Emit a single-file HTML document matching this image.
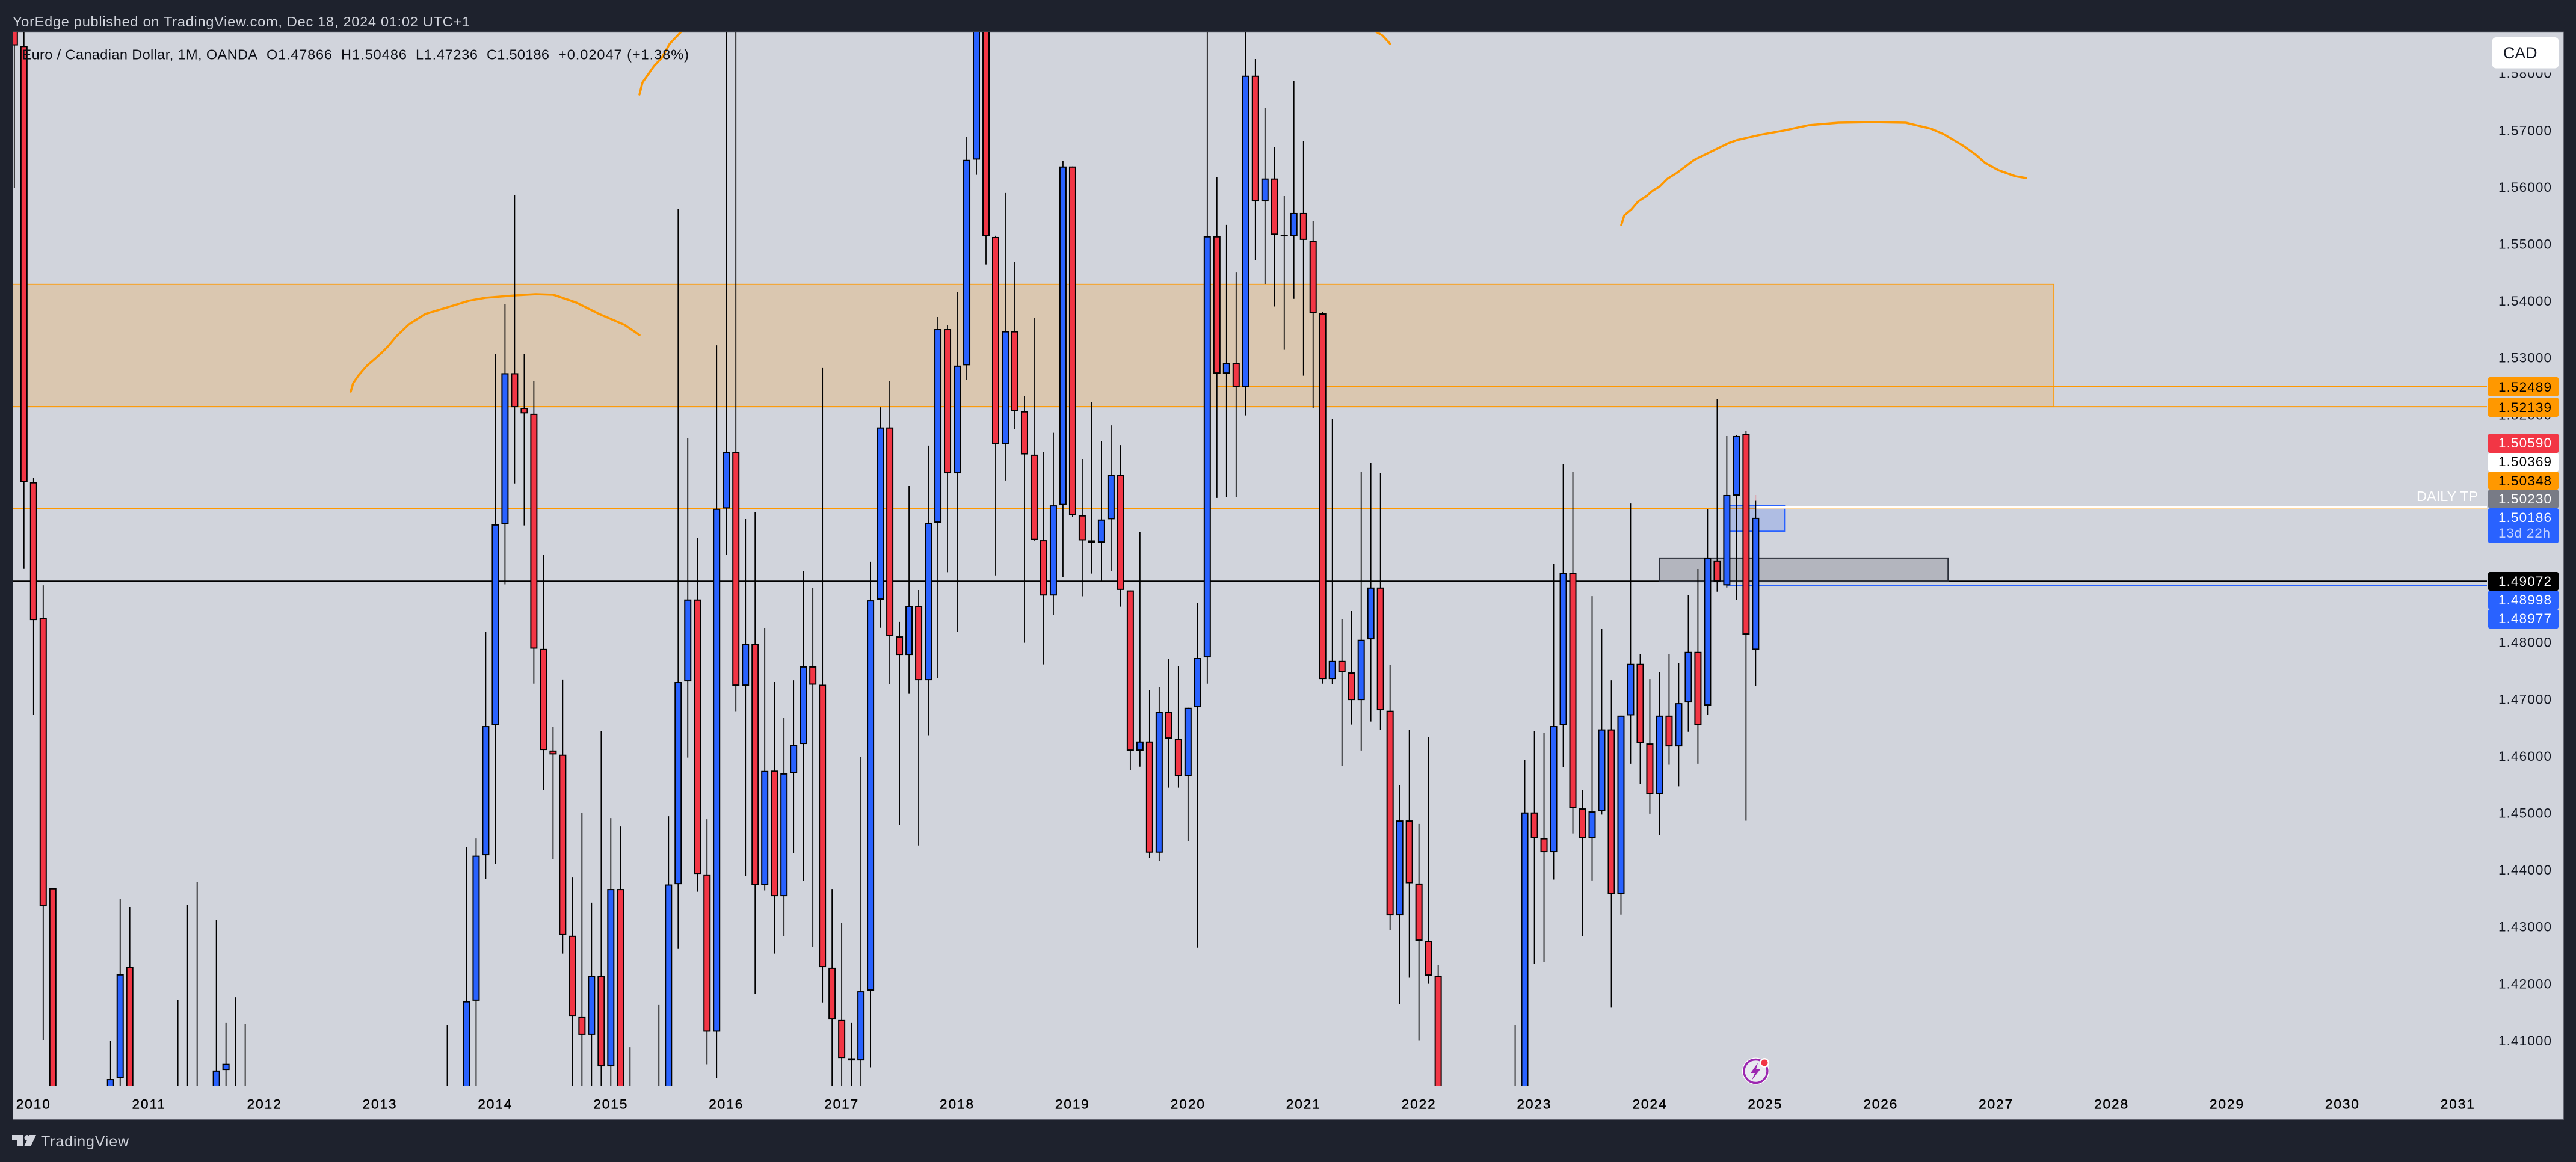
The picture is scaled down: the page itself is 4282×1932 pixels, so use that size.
<!DOCTYPE html>
<html lang="en">
<head>
<meta charset="utf-8">
<title>EUR/CAD monthly chart</title>
<style>
html,body{margin:0;padding:0;background:#1e222d;width:4282px;height:1932px;overflow:hidden}
svg{display:block;font-family:"Liberation Sans",sans-serif}
</style>
</head>
<body>
<svg id="chart" xmlns="http://www.w3.org/2000/svg" width="4282" height="1932" viewBox="0 0 4282 1932">
  <defs>
    <clipPath id="plot-clip"><rect x="21" y="54" width="4113" height="1752"/></clipPath>
  </defs>
  <rect x="0" y="0" width="4282" height="1932" fill="#1e222d"/>
  <rect x="21" y="54" width="4240" height="1807" fill="#d1d4dc"/>
  <path d="M21 53.5H4261V1861H21" fill="none" stroke="#787b86" stroke-width="1.6"/>
  <text x="21" y="44" font-size="23.5" fill="#d1d4dc" textLength="760">YorEdge published on TradingView.com, Dec 18, 2024 01:02 UTC+1</text>

  <g clip-path="url(#plot-clip)">
    <g id="drawings"></g>
    <g fill="none" stroke="#ff9800" stroke-width="3.6" stroke-linecap="round" stroke-linejoin="round">
      <polyline points="583,651 587,637 596,624 610,608 624,596 635,586 645,576 659,559 680,539 707,522 737,513 779,500 807,495 856,491 891,489 920,490 958,503 996,522 1038,540 1063,557"/>
      <polyline points="1063,157 1068,137 1087,110 1100,96 1113,73 1133,52"/>
      <polyline points="2286,52 2298,59 2311,73"/>
      <polyline points="2695,374 2700,358 2712,348 2723,335 2737,326 2746,318 2759,310 2772,297 2788,287 2816,266 2873,238 2887,233 2926,224 2965,217 3007,208 3056,204 3112,203 3168,204 3210,214 3231,223 3263,242 3284,257 3300,271 3322,283 3350,293 3368,296"/>
    </g>
    <g id="candles"></g>
    <line x1="2918.4" x2="2918.4" y1="823" y2="833" stroke="#f23645" stroke-opacity="0.25" stroke-width="1.8"/>
  </g>

  <g id="price-axis"></g>
  <g id="time-axis"></g>

  <text x="4017" y="833" font-size="23.5" fill="#ffffff" textLength="102">DAILY TP</text>

  <g font-size="22.5">
    <g><rect x="4136" y="627" width="117" height="32" rx="3" fill="#ff9800"/><text x="4153" y="651" textLength="88" fill="#000">1.52489</text></g>
    <g><rect x="4136" y="661" width="117" height="32" rx="3" fill="#ff9800"/><text x="4153" y="685" textLength="88" fill="#000">1.52139</text></g>
    <g><rect x="4136" y="721" width="117" height="32" rx="3" fill="#f23645"/><text x="4153" y="744" textLength="88" fill="#fff">1.50590</text></g>
    <g><rect x="4136" y="753" width="117" height="31" rx="3" fill="#ffffff"/><text x="4153" y="775" textLength="88" fill="#000">1.50369</text></g>
    <g><rect x="4136" y="784" width="117" height="30" rx="3" fill="#ff9800"/><text x="4153" y="807" textLength="88" fill="#000">1.50348</text></g>
    <g><rect x="4136" y="814" width="117" height="31" rx="3" fill="#787b86"/><text x="4153" y="837" textLength="88" fill="#fff">1.50230</text></g>
    <g><rect x="4136" y="845" width="117" height="58" rx="3" fill="#2962ff"/><text x="4153" y="868" textLength="88" fill="#fff">1.50186</text><text x="4153" y="894" textLength="86" fill="#c4d2ff">13d 22h</text></g>
    <g><rect x="4136" y="951" width="117" height="31" rx="3" fill="#000000"/><text x="4153" y="974" textLength="88" fill="#fff">1.49072</text></g>
    <g><rect x="4136" y="982" width="117" height="31" rx="3" fill="#2962ff"/><text x="4153" y="1005" textLength="88" fill="#fff">1.48998</text></g>
    <g><rect x="4136" y="1013" width="117" height="32" rx="3" fill="#2962ff"/><text x="4153" y="1036" textLength="88" fill="#fff">1.48977</text></g>
  </g>

  <rect x="4140" y="112" width="116" height="8.5" fill="#d1d4dc"/>
  <g>
    <rect x="4142.5" y="62" width="111" height="51.5" rx="7" fill="#ffffff"/>
    <text x="4161" y="97" font-size="26.5" fill="#131722" textLength="56.5">CAD</text>
  </g>

  <g font-size="23.5" fill="#0c0e15">
    <text x="36.5" y="98.5" textLength="391.5">Euro / Canadian Dollar, 1M, OANDA</text>
    <text x="443" y="98.5" textLength="109">O1.47866</text>
    <text x="567" y="98.5" textLength="109">H1.50486</text>
    <text x="691" y="98.5" textLength="103">L1.47236</text>
    <text x="809" y="98.5" textLength="104">C1.50186</text>
    <text x="928" y="98.5" textLength="217">+0.02047 (+1.38%)</text>
  </g>

  <g>
    <circle cx="2918.4" cy="1781" r="22.5" fill="#ffffff"/>
    <circle cx="2918.4" cy="1781" r="19.5" fill="#e9e9f0" stroke="#9c27b0" stroke-width="3.4"/>
    <polygon points="2922,1767 2910,1784 2917,1784 2912,1796 2926,1778 2919,1778" fill="#9c27b0"/>
    <circle cx="2933" cy="1767" r="8" fill="#ffffff"/>
    <circle cx="2933" cy="1767" r="5.5" fill="#f23645"/>
  </g>

  <g fill="#d1d4dc">
    <polygon points="20,1887 39,1887 39,1906 29,1906 29,1896 20,1896"/>
    <circle cx="45" cy="1891.5" r="4.5"/>
    <polygon points="60,1887 51,1906 40,1906 49,1887"/>
    <text x="68" y="1906" font-size="25" textLength="146">TradingView</text>
  </g>
</svg>

<script>
// Price axis and time axis labels
const priceTicks = [1.58,1.57,1.56,1.55,1.54,1.53,1.52,1.51,1.50,1.49,1.48,1.47,1.46,1.45,1.44,1.43,1.42,1.41];
const yearLabels = [2010,2011,2012,2013,2014,2015,2016,2017,2018,2019,2020,2021,2022,2023,2024,2025,2026,2027,2028,2029,2030,2031];

// Monthly bars from Nov 2009 to Dec 2024 (values outside the visible window are estimates)
const opens = [
1.60,1.5848,
1.50812,1.48426,1.43676,1.36,1.34,1.29,1.27,1.33,1.35,1.40333,1.42291,1.37,
1.33,1.35,1.34,1.37,1.38,1.39,1.38,1.39,1.4048,1.39,1.38,1.37,
1.35,1.31,1.32,1.31,1.32,1.28,1.25,1.26,1.23,1.25,1.27,1.28,
1.31,1.36,1.32,1.30,1.32,1.34,1.35,1.37,1.38,1.39,1.41698,1.44254,
1.46538,1.50079,1.52728,1.52119,1.52015,1.47882,1.46096,1.46023,1.4284,1.41412,1.41095,1.42134,
1.40544,1.43662,1.38,1.37,1.38,1.38,1.39,1.43746,1.47309,1.4875,1.43918,1.41153,
1.5035,1.51339,1.47235,1.47969,1.43733,1.45742,1.43535,1.45702,1.4621,1.47575,1.47252,1.42279,
1.4136,1.40687,1.40649,1.41876,1.48747,1.51774,1.48102,1.47774,1.48641,1.4733,1.501,1.53504,
1.50967,1.52866,1.56481,1.60,1.55122,1.5148,1.53466,1.52059,1.51296,1.49793,1.48819,1.5041,
1.56361,1.5023,1.49789,1.49751,1.5016,1.50945,1.4891,1.46093,1.46255,1.443,1.46773,1.46298,
1.45641,1.46855,1.47732,1.55135,1.52721,1.52904,1.52489,1.57957,1.55745,1.5615,1.55161,1.55132,
1.55545,1.55058,1.53779,1.47351,1.47671,1.47468,1.46981,1.48049,1.48961,1.46795,1.43197,1.44867,
1.43759,1.42744,1.42134,1.39,1.36,1.37,1.34,1.30,1.31,1.33,1.38,1.39,
1.45008,1.44555,1.44307,1.46538,1.49215,1.45079,1.44561,1.45036,1.46468,1.43578,1.46713,1.47619,
1.4622,1.45333,1.46709,1.46167,1.46939,1.4783,1.46886,1.49436,1.48998,1.50576,1.51658,1.47866];

const highs = [
1.61,1.60,
1.50889,1.49,1.43676,1.38,1.35,1.31,1.36,1.37,1.40988,1.43483,1.43346,1.38,
1.37,1.38,1.39,1.41717,1.43387,1.43789,1.40,1.43123,1.41307,1.41759,1.41294,1.39,
1.36,1.33,1.34,1.33,1.33,1.29,1.28,1.27,1.26,1.28,1.30,1.32,
1.37,1.37,1.33,1.33,1.36,1.37,1.38,1.41263,1.40,1.44402,1.4455,1.48176,
1.5307,1.53948,1.55861,1.5306,1.52595,1.4954,1.46516,1.47343,1.43873,1.45005,1.43421,1.46442,
1.44909,1.44761,1.40882,1.40,1.40,1.41624,1.44941,1.55618,1.5158,1.49825,1.44888,1.53218,
1.60,1.60,1.50164,1.5029,1.4825,1.47299,1.46665,1.4733,1.49246,1.48948,1.52819,1.43662,
1.4307,1.41307,1.45988,1.49414,1.52129,1.52584,1.48357,1.50745,1.48916,1.51455,1.53715,1.53567,
1.54149,1.56876,1.62,1.62,1.55144,1.55895,1.54677,1.5232,1.53705,1.51347,1.51679,1.56453,
1.56361,1.51221,1.52225,1.51537,1.51812,1.51463,1.4891,1.49941,1.47151,1.47204,1.47711,1.47584,
1.46847,1.48694,1.60,1.56179,1.55334,1.54497,1.60,1.5825,1.57394,1.56696,1.5584,1.57859,
1.56802,1.55396,1.5381,1.51929,1.48408,1.48546,1.50998,1.51148,1.50977,1.47595,1.45491,1.46453,
1.44806,1.46336,1.4233,1.395,1.38,1.38,1.35,1.33,1.35,1.39,1.41263,1.45936,
1.46432,1.46411,1.49381,1.51127,1.50988,1.45396,1.4881,1.4824,1.4733,1.46709,1.50438,1.47795,
1.47351,1.47478,1.47795,1.47637,1.48823,1.49286,1.50343,1.52278,1.51623,1.51644,1.51707,1.50486];

const lows = [
1.5598,1.49289,
1.46721,1.41009,1.37,1.33,1.26,1.25,1.26,1.32,1.34,1.39,1.36,1.32,
1.32,1.33,1.33,1.35,1.36,1.37,1.36,1.37,1.38,1.36,1.36,1.34,
1.30,1.29,1.30,1.30,1.27,1.23,1.24,1.22,1.22,1.24,1.26,1.27,
1.30,1.30,1.29,1.29,1.31,1.33,1.34,1.36,1.37,1.38,1.39,1.43834,
1.44098,1.49017,1.5079,1.50052,1.4727,1.45399,1.44186,1.42525,1.39,1.39,1.39,1.39,
1.39,1.36,1.35,1.35,1.36,1.36,1.37,1.42608,1.45971,1.43614,1.40582,1.40336,
1.49535,1.46787,1.43887,1.41816,1.43637,1.42525,1.42832,1.44291,1.43804,1.42643,1.41667,1.38,
1.38,1.39,1.39,1.40529,1.48253,1.4726,1.44788,1.47092,1.44427,1.46364,1.47364,1.49229,
1.4818,1.52611,1.56214,1.54639,1.49173,1.50842,1.51744,1.4799,1.49785,1.4761,1.48478,1.49142,
1.50199,1.48806,1.49206,1.49069,1.4925,1.48624,1.45747,1.45811,1.44203,1.4415,1.45443,1.45443,
1.44502,1.4263,1.4727,1.50535,1.50544,1.50549,1.51986,1.54712,1.54289,1.53901,1.53138,1.54035,
1.52684,1.5211,1.4727,1.4726,1.45824,1.46553,1.46096,1.46605,1.46458,1.42938,1.41637,1.42103,
1.41004,1.41997,1.38,1.34,1.33,1.33,1.28,1.29,1.30,1.32,1.37,1.38,
1.42344,1.42376,1.43826,1.45803,1.44639,1.42832,1.43812,1.44969,1.41576,1.43211,1.45863,1.45505,
1.44986,1.44614,1.45846,1.45466,1.46424,1.45863,1.46721,1.48887,1.48961,1.4874,1.44863,1.47236];

const closes = [
1.58488,1.50816,
1.48387,1.43356,1.38,1.34,1.29,1.27,1.33,1.35,1.40322,1.42164,1.37,1.33,
1.35,1.34,1.37,1.38,1.39,1.38,1.39,1.40472,1.4059,1.38,1.37,1.35,
1.31,1.32,1.31,1.32,1.28,1.25,1.26,1.23,1.25,1.27,1.28,1.31,
1.36,1.32,1.30,1.32,1.34,1.35,1.37,1.38,1.39,1.4169,1.44248,1.46527,
1.5007,1.52728,1.52129,1.52021,1.47886,1.46104,1.46027,1.4285,1.41421,1.41095,1.42134,1.40544,
1.43662,1.38,1.37,1.38,1.39,1.39,1.43742,1.47299,1.4875,1.43926,1.41153,1.50346,
1.51339,1.47235,1.47969,1.43733,1.45737,1.43535,1.45694,1.46199,1.47575,1.47252,1.42288,1.41368,
1.40691,1.40649,1.41865,1.48736,1.51774,1.48113,1.47774,1.48641,1.4733,1.50091,1.53504,1.50967,
1.52861,1.56477,1.60,1.55132,1.5148,1.53466,1.52063,1.513,1.49797,1.48819,1.50406,1.56361,
1.50234,1.49789,1.49751,1.50156,1.50945,1.48918,1.46093,1.46255,1.443,1.46773,1.46305,1.45641,
1.46847,1.47722,1.55135,1.52721,1.52904,1.52489,1.57957,1.55745,1.5615,1.55161,1.55132,1.55545,
1.5507,1.53779,1.47351,1.47671,1.47478,1.46981,1.48042,1.48961,1.46802,1.43197,1.44867,1.43763,
1.42753,1.4214,1.39,1.36,1.37,1.34,1.30,1.31,1.33,1.38,1.39,1.45008,
1.44561,1.44307,1.46527,1.49215,1.45089,1.44561,1.45026,1.46468,1.43578,1.46709,1.47619,1.46231,
1.45333,1.46709,1.46167,1.46928,1.4783,1.46538,1.49478,1.49064,1.50587,1.51623,1.48134,1.50186];

// Drawn price levels and zones
const supplyZone = [1.54289, 1.52139];
const greyZone = [1.49478, 1.49064];
const blueZone = [1.50406, 1.49950];
const orangeLevelUpper = 1.52489;
const orangeLevelLower = 1.50348;
const whiteLevel = 1.50369;
const blackLevel = 1.49072;
const blueLevel = 1.48998;

const SVG_NS = 'http://www.w3.org/2000/svg';
const BARS_BEFORE_2010 = 2;
const PLOT_LEFT = 21;
const PLOT_RIGHT = 4134;
const WINDOW_TOP = 50;
const WINDOW_BOTTOM = 1810;

function priceToY(p) { return 216.3 + (1.57 - p) * 9460; }
function barToX(i) { return 55.8 + 15.992 * i; }
function clampY(y) { return Math.min(WINDOW_BOTTOM, Math.max(WINDOW_TOP, y)); }
function make(tag, attrs, parent) {
  const el = document.createElementNS(SVG_NS, tag);
  for (const k in attrs) el.setAttribute(k, attrs[k]);
  parent.appendChild(el);
  return el;
}

const drawings = document.getElementById('drawings');
const candleLayer = document.getElementById('candles');
const priceAxis = document.getElementById('price-axis');
const timeAxis = document.getElementById('time-axis');

function drawBox(name, prices, x1, x2, fill, stroke, sw) {
  const el = make('rect', {x: x1, y: priceToY(prices[0]), width: x2 - x1, height: priceToY(prices[1]) - priceToY(prices[0]), fill: fill, stroke: stroke, 'stroke-width': sw}, drawings);
  
  
}
function drawLevel(name, price, x1, x2, color, sw) {
  const el = make('line', {x1: x1, x2: x2, y1: priceToY(price), y2: priceToY(price), stroke: color, 'stroke-width': sw}, drawings);
  
  
}

drawBox('supply-zone', supplyZone, PLOT_LEFT - 5, barToX(210), 'rgba(255,152,0,0.2)', '#ff9800', 1.8);
drawLevel('level-1-52139', supplyZone[1], PLOT_LEFT, PLOT_RIGHT, '#ff9800', 2);
drawLevel('level-1-52489', orangeLevelUpper, barToX(123), PLOT_RIGHT, '#ff9800', 2);
drawLevel('level-1-50348', orangeLevelLower, PLOT_LEFT, PLOT_RIGHT, '#ff9800', 1.8);
drawBox('blue-zone', blueZone, barToX(176), barToX(182), 'rgba(41,98,255,0.2)', '#2962ff', 2);
drawLevel('level-1-50369', whiteLevel, barToX(179), PLOT_RIGHT, '#ffffff', 4);
drawLevel('level-1-48998', blueLevel, barToX(176), PLOT_RIGHT, '#2962ff', 2.4);
drawLevel('level-1-49072', blackLevel, PLOT_LEFT, PLOT_RIGHT, '#000000', 2.2);
drawBox('grey-zone', greyZone, barToX(169), barToX(199), 'rgba(42,46,57,0.18)', '#2a2e39', 2);

for (let n = 0; n < opens.length; n++) {
  const i = n - BARS_BEFORE_2010;
  const x = barToX(i);
  const up = closes[n] >= opens[n];
  const rawTop = priceToY(Math.max(opens[n], closes[n]));
  const rawBot = priceToY(Math.min(opens[n], closes[n]));
  const rawHigh = priceToY(highs[n]);
  const rawLow = priceToY(lows[n]);
  if (rawHigh >= WINDOW_BOTTOM || rawLow <= WINDOW_TOP) continue;
  const g = make('g', {}, candleLayer);
  
  
  const wick = make('line', {x1: x, x2: x, y1: clampY(rawHigh), y2: clampY(rawLow), stroke: '#000000', 'stroke-width': 1.8}, g);
  
  
  if (rawTop < WINDOW_BOTTOM && rawBot > WINDOW_TOP) {
    const yTop = clampY(rawTop);
    const yBot = clampY(rawBot);
    const body = make('rect', {x: x - 5, y: yTop + 1, width: 10, height: Math.max(yBot - yTop - 2, 0.5), fill: up ? '#2962ff' : '#f23645', stroke: '#000000', 'stroke-width': 2}, g);
    
    
  }
}

priceTicks.forEach(function (p) {
  const t = make('text', {x: 4153, y: priceToY(p) + 8, 'font-size': 22.5, fill: '#131722', textLength: 88}, priceAxis);
  
  
  t.textContent = p.toFixed(5);
});

yearLabels.forEach(function (yr) {
  const t = make('text', {x: barToX((yr - 2010) * 12), y: 1843.5, 'font-size': 22.5, fill: '#000000', stroke: '#000000', 'stroke-width': 0.45, 'text-anchor': 'middle', 'letter-spacing': 2}, timeAxis);
  
  
  t.textContent = yr;
});
</script>
</body>
</html>
